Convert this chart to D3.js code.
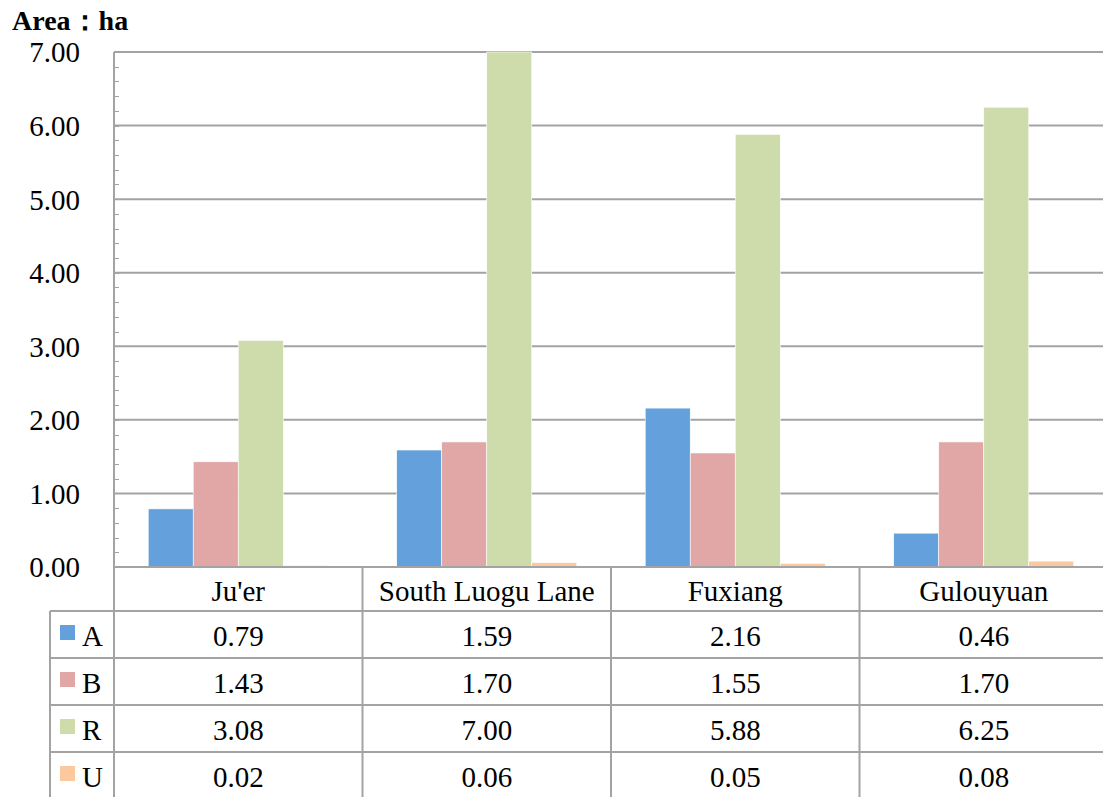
<!DOCTYPE html>
<html>
<head>
<meta charset="utf-8">
<script src="https://cdn.jsdelivr.net/npm/d3@7"></script>
<style>
  body { margin: 0; background: #fff; }
  svg { display: block; font-family: "Liberation Serif", "Times New Roman", serif; }
</style>
</head>
<body>
<div id="chart"></div>
<script>
var categories = ["Ju'er", "South Luogu Lane", "Fuxiang", "Gulouyuan"];
var seriesNames = ["A", "B", "R", "U"];
var valuesA = [0.79, 1.59, 2.16, 0.46];
var valuesB = [1.43, 1.70, 1.55, 1.70];
var valuesR = [3.08, 7.00, 5.88, 6.25];
var valuesU = [0.02, 0.06, 0.05, 0.08];
var yTicks = [0, 1, 2, 3, 4, 5, 6, 7];
var colors = ["#64a0dc", "#e1a7a7", "#cedcab", "#fcc89e"];

var allValues = [valuesA, valuesB, valuesR, valuesU];

var width = 1103, height = 797;
var plotLeft = 114, plotRight = 1108, plotTop = 52, zero = 567;
var gridColor = "#a3a3a3";
var fontSize = "29px";

var svg = d3.select("#chart")
  .append("svg")
    .attr("width", width)
    .attr("height", height);

var x = d3.scaleBand()
  .domain(categories)
  .range([plotLeft, plotRight]);

var xs = d3.scaleBand()
  .domain(seriesNames)
  .range([0, x.bandwidth()])
  .paddingOuter(0.76);

var y = d3.scaleLinear()
  .domain([0, 7])
  .range([zero, plotTop]);

// gridlines
svg.append("g")
  .selectAll("line")
  .data(yTicks.filter(function(d) { return d > 0; }))
  .enter()
  .append("line")
    .attr("x1", plotLeft)
    .attr("x2", plotRight)
    .attr("y1", function(d) { return y(d); })
    .attr("y2", function(d) { return y(d); })
    .style("stroke", gridColor)
    .style("stroke-width", 2);

// minor ticks
var minor = d3.range(0, 7.001, 0.2);
svg.append("g")
  .selectAll("line")
  .data(minor)
  .enter()
  .append("line")
    .attr("x1", plotLeft)
    .attr("x2", plotLeft + 5)
    .attr("y1", function(d) { return Math.round(y(d)) + 0.5; })
    .attr("y2", function(d) { return Math.round(y(d)) + 0.5; })
    .style("stroke", gridColor)
    .style("stroke-width", 1);

// y tick labels
svg.append("g")
  .selectAll("text")
  .data(yTicks)
  .enter()
  .append("text")
    .attr("x", 80)
    .attr("y", function(d) { return y(d); })
    .attr("dy", "0.36em")
    .attr("text-anchor", "end")
    .style("font-size", fontSize)
    .text(function(d) { return d3.format(".2f")(d); });

// bars
var groups = svg.append("g")
  .selectAll("g")
  .data(categories)
  .enter()
  .append("g")
    .attr("transform", function(d) { return "translate(" + x(d) + ",0)"; });

groups.selectAll("rect")
  .data(function(d, i) {
    return seriesNames.map(function(s, j) { return {s: s, v: allValues[j][i], c: colors[j]}; });
  })
  .enter()
  .append("rect")
    .attr("x", function(d) { return xs(d.s); })
    .attr("width", xs.bandwidth())
    .attr("y", function(d) { return y(d.v); })
    .attr("height", function(d) { return zero - y(d.v); })
    .style("fill", function(d) { return d.c; })
    .style("stroke", "#ffffff")
    .style("stroke-width", 0.6);

// axis title
svg.append("text")
  .attr("x", 12)
  .attr("y", 30)
  .style("font-size", "28px")
  .style("font-weight", "bold")
  .text("Area：ha");

// data table
var row = d3.scaleBand()
  .domain(seriesNames)
  .range([611, 611 + 47 * 4]);

var table = svg.append("g");

// horizontal table lines
table.append("line")
  .attr("x1", plotLeft).attr("x2", plotRight)
  .attr("y1", zero).attr("y2", zero)
  .style("stroke", gridColor).style("stroke-width", 2);

table.selectAll(".hline")
  .data(seriesNames)
  .enter()
  .append("line")
    .attr("class", "hline")
    .attr("x1", 50).attr("x2", plotRight)
    .attr("y1", function(d) { return row(d); })
    .attr("y2", function(d) { return row(d); })
    .style("stroke", gridColor).style("stroke-width", 2);

// vertical table lines
table.append("line")
  .attr("x1", plotLeft).attr("x2", plotLeft)
  .attr("y1", plotTop).attr("y2", height)
  .style("stroke", gridColor).style("stroke-width", 2);

table.append("line")
  .attr("x1", 50).attr("x2", 50)
  .attr("y1", row("A")).attr("y2", height)
  .style("stroke", gridColor).style("stroke-width", 2);

table.selectAll(".vline")
  .data(categories.slice(1))
  .enter()
  .append("line")
    .attr("class", "vline")
    .attr("x1", function(d) { return x(d); })
    .attr("x2", function(d) { return x(d); })
    .attr("y1", zero).attr("y2", height)
    .style("stroke", gridColor).style("stroke-width", 2);

// category headers
table.selectAll(".cat")
  .data(categories)
  .enter()
  .append("text")
    .attr("class", "cat")
    .attr("x", function(d) { return x(d) + x.bandwidth() / 2; })
    .attr("y", 601)
    .attr("text-anchor", "middle")
    .style("font-size", fontSize)
    .text(function(d) { return d; });

// legend keys
table.selectAll(".key")
  .data(seriesNames)
  .enter()
  .append("rect")
    .attr("class", "key")
    .attr("x", 60)
    .attr("y", function(d) { return row(d) + 14; })
    .attr("width", 15)
    .attr("height", 15)
    .style("fill", function(d, i) { return colors[i]; });

table.selectAll(".keytext")
  .data(seriesNames)
  .enter()
  .append("text")
    .attr("class", "keytext")
    .attr("x", 82)
    .attr("y", function(d) { return row(d) + row.bandwidth() / 2 + 11; })
    .style("font-size", fontSize)
    .text(function(d) { return d; });

// values
seriesNames.forEach(function(s, j) {
  table.append("g")
    .selectAll("text")
    .data(allValues[j])
    .enter()
    .append("text")
      .attr("x", function(d, i) { return x(categories[i]) + x.bandwidth() / 2; })
      .attr("y", row(s) + row.bandwidth() / 2 + 11)
      .attr("text-anchor", "middle")
      .style("font-size", fontSize)
      .text(function(d) { return d3.format(".2f")(d); });
});
</script>
</body>
</html>
